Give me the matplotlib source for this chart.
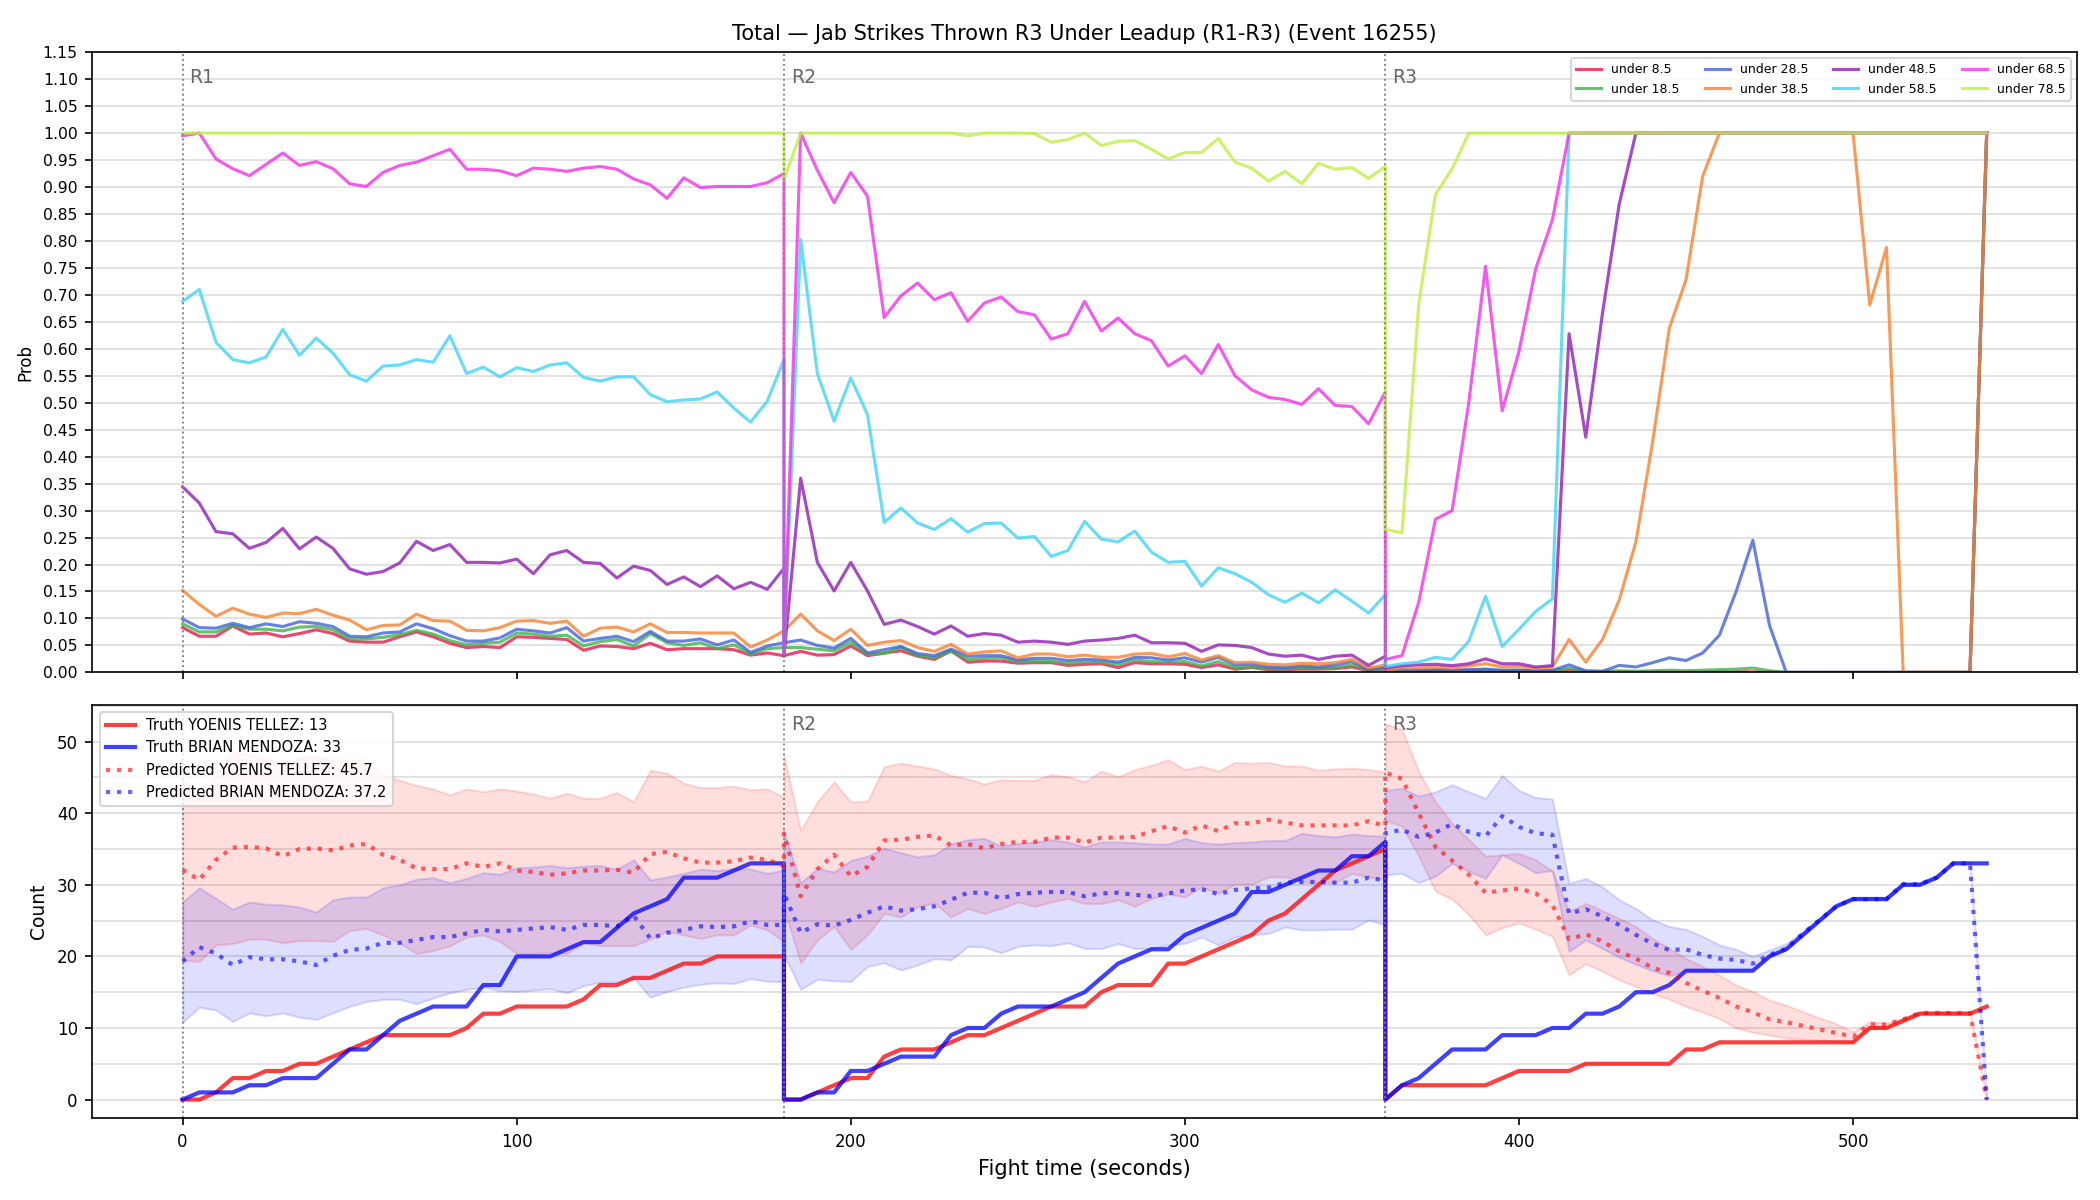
import numpy as np
import matplotlib
matplotlib.use("Agg")
import matplotlib.pyplot as plt
from matplotlib.ticker import MultipleLocator

title = "Total \u2014 Jab Strikes Thrown R3 Under Leadup (R1-R3) (Event 16255)"
round_names = ["R1", "R2", "R3"]
round_starts = [0, 180, 360]
t_round = np.arange(0, 181, 5)
t = np.concatenate([s + t_round for s in round_starts])

thresholds = ["under 8.5", "under 18.5", "under 28.5", "under 38.5",
              "under 48.5", "under 58.5", "under 68.5", "under 78.5"]
line_colors = ["#e6194b", "#3cb44b", "#4363d8", "#f58231",
               "#911eb4", "#42d4f4", "#f032e6", "#bfef45"]

# probability of "under X" per 5 s sample, R1 | R2 | R3
under_8_5 = (
    [0.083, 0.067, 0.067, 0.086, 0.071, 0.073, 0.066, 0.072, 0.079, 0.072, 0.058, 0.056, 0.056,
     0.066, 0.075, 0.066, 0.054, 0.046, 0.048, 0.046, 0.066, 0.065, 0.063, 0.061, 0.041, 0.049,
     0.048, 0.044, 0.054, 0.042, 0.044, 0.044, 0.044, 0.042, 0.032, 0.036, 0.031]
    + [0.031, 0.039, 0.032, 0.033, 0.049, 0.031, 0.036, 0.040, 0.030, 0.024, 0.040, 0.019, 0.021,
       0.021, 0.017, 0.018, 0.018, 0.013, 0.015, 0.016, 0.009, 0.018, 0.016, 0.016, 0.015, 0.009,
       0.014, 0.006, 0.009, 0.005, 0.005, 0.006, 0.006, 0.007, 0.010, 0.003, 0.006]
    + [0.001, 0.002, 0.002, 0.002, 0.002, 0.003, 0.004, 0.002, 0.003, 0.002, 0.002, 0.004, 0.001,
       0.001, 0.001, 0.001, 0.001, 0.001, 0.001, 0.001, 0.001, 0.001, 0.001, 0.001, 0, 0, 0, 0,
       0, 0, 0, 0, 0, 0, 0, 0, 1.0]
)
under_18_5 = (
    [0.090, 0.075, 0.075, 0.087, 0.080, 0.080, 0.077, 0.084, 0.085, 0.079, 0.062, 0.062, 0.065,
     0.070, 0.078, 0.071, 0.059, 0.051, 0.054, 0.056, 0.073, 0.071, 0.067, 0.069, 0.049, 0.057,
     0.061, 0.049, 0.072, 0.055, 0.050, 0.055, 0.044, 0.051, 0.034, 0.044, 0.046]
    + [0.046, 0.046, 0.043, 0.040, 0.056, 0.033, 0.035, 0.046, 0.031, 0.027, 0.039, 0.024, 0.026,
       0.027, 0.020, 0.021, 0.020, 0.017, 0.019, 0.019, 0.015, 0.023, 0.020, 0.019, 0.020, 0.012,
       0.020, 0.009, 0.010, 0.007, 0.006, 0.009, 0.007, 0.009, 0.014, 0.004, 0.007]
    + [0.002, 0.003, 0.003, 0.004, 0.003, 0.004, 0.005, 0.003, 0.004, 0.002, 0.003, 0.008, 0.002,
       0.002, 0.003, 0.002, 0.003, 0.004, 0.003, 0.004, 0.005, 0.006, 0.008, 0.003, 0, 0, 0, 0,
       0, 0, 0, 0, 0, 0, 0, 0, 1.0]
)
under_28_5 = (
    [0.099, 0.083, 0.082, 0.091, 0.083, 0.090, 0.085, 0.094, 0.091, 0.085, 0.067, 0.066, 0.073,
     0.075, 0.090, 0.081, 0.068, 0.058, 0.058, 0.064, 0.080, 0.077, 0.073, 0.083, 0.058, 0.063,
     0.067, 0.057, 0.076, 0.058, 0.058, 0.062, 0.051, 0.060, 0.037, 0.049, 0.055]
    + [0.055, 0.060, 0.050, 0.045, 0.063, 0.036, 0.042, 0.048, 0.035, 0.031, 0.043, 0.030, 0.031,
       0.031, 0.023, 0.026, 0.026, 0.022, 0.024, 0.023, 0.019, 0.028, 0.027, 0.023, 0.027, 0.019,
       0.028, 0.014, 0.015, 0.010, 0.009, 0.012, 0.010, 0.014, 0.020, 0.005, 0.010]
    + [0.002, 0.005, 0.004, 0.005, 0.004, 0.005, 0.006, 0.004, 0.004, 0.003, 0.004, 0.014, 0.003,
       0.002, 0.013, 0.010, 0.018, 0.027, 0.022, 0.036, 0.069, 0.150, 0.245, 0.087, 0, 0, 0, 0,
       0, 0, 0, 0, 0, 0, 0, 0, 1.0]
)
under_38_5 = (
    [0.152, 0.126, 0.104, 0.119, 0.108, 0.102, 0.110, 0.109, 0.117, 0.106, 0.097, 0.079, 0.087,
     0.088, 0.108, 0.096, 0.095, 0.078, 0.077, 0.083, 0.095, 0.096, 0.091, 0.095, 0.067, 0.082,
     0.084, 0.075, 0.090, 0.074, 0.074, 0.073, 0.073, 0.073, 0.047, 0.060, 0.077]
    + [0.077, 0.108, 0.077, 0.059, 0.080, 0.050, 0.056, 0.059, 0.046, 0.039, 0.052, 0.034, 0.038,
       0.040, 0.027, 0.034, 0.034, 0.029, 0.032, 0.028, 0.028, 0.034, 0.035, 0.029, 0.035, 0.023,
       0.031, 0.018, 0.019, 0.015, 0.014, 0.017, 0.016, 0.018, 0.024, 0.008, 0.014]
    + [0.003, 0.008, 0.008, 0.010, 0.008, 0.012, 0.016, 0.010, 0.011, 0.007, 0.010, 0.061, 0.019,
       0.061, 0.134, 0.242, 0.427, 0.638, 0.728, 0.920, 1, 1, 1, 1, 1, 1, 1, 1, 1,
       0.681, 0.788, 0, 0, 0, 0, 0, 1.0]
)
under_48_5 = (
    [0.344, 0.314, 0.261, 0.257, 0.230, 0.241, 0.267, 0.229, 0.251, 0.230, 0.192, 0.182, 0.187,
     0.203, 0.243, 0.226, 0.237, 0.204, 0.204, 0.203, 0.210, 0.183, 0.218, 0.226, 0.204, 0.202,
     0.175, 0.197, 0.189, 0.163, 0.177, 0.159, 0.179, 0.155, 0.167, 0.154, 0.193]
    + [0.030, 0.360, 0.204, 0.151, 0.204, 0.151, 0.089, 0.097, 0.085, 0.071, 0.086, 0.067, 0.072,
       0.069, 0.056, 0.058, 0.056, 0.052, 0.058, 0.060, 0.063, 0.069, 0.055, 0.055, 0.054, 0.039,
       0.051, 0.050, 0.046, 0.034, 0.030, 0.032, 0.024, 0.030, 0.032, 0.013, 0.030]
    + [0.008, 0.0125, 0.014, 0.015, 0.0125, 0.016, 0.025, 0.016, 0.016, 0.010, 0.0125, 0.628,
       0.436, 0.666, 0.868] + [1.0] * 22
)
under_58_5 = (
    [0.688, 0.710, 0.612, 0.580, 0.574, 0.585, 0.636, 0.588, 0.620, 0.592, 0.552, 0.540, 0.568,
     0.570, 0.580, 0.575, 0.624, 0.554, 0.566, 0.548, 0.565, 0.558, 0.570, 0.574, 0.547, 0.540,
     0.548, 0.548, 0.515, 0.502, 0.505, 0.507, 0.520, 0.490, 0.464, 0.503, 0.580]
    + [0.035, 0.803, 0.554, 0.466, 0.546, 0.478, 0.278, 0.305, 0.277, 0.265, 0.285, 0.260, 0.276,
       0.277, 0.249, 0.252, 0.215, 0.226, 0.280, 0.247, 0.242, 0.262, 0.223, 0.204, 0.206, 0.160,
       0.194, 0.183, 0.167, 0.144, 0.130, 0.147, 0.129, 0.153, 0.132, 0.110, 0.144]
    + [0.011, 0.016, 0.019, 0.028, 0.024, 0.058, 0.141, 0.048, 0.080, 0.113, 0.136] + [1.0] * 26
)
under_68_5 = (
    [0.995, 1.0, 0.952, 0.934, 0.921, 0.942, 0.963, 0.940, 0.947, 0.934, 0.906, 0.901, 0.927,
     0.940, 0.946, 0.958, 0.970, 0.933, 0.933, 0.930, 0.921, 0.935, 0.933, 0.929, 0.935, 0.938,
     0.933, 0.915, 0.904, 0.879, 0.917, 0.899, 0.901, 0.901, 0.901, 0.908, 0.925]
    + [0.035, 1.0, 0.931, 0.871, 0.927, 0.883, 0.658, 0.698, 0.722, 0.691, 0.704, 0.651, 0.685,
       0.696, 0.669, 0.663, 0.618, 0.628, 0.688, 0.633, 0.657, 0.628, 0.615, 0.568, 0.587, 0.554,
       0.608, 0.550, 0.524, 0.510, 0.506, 0.497, 0.526, 0.495, 0.493, 0.461, 0.520]
    + [0.024, 0.031, 0.130, 0.284, 0.300, 0.501, 0.753, 0.485, 0.595, 0.748, 0.839] + [1.0] * 26
)
under_78_5 = (
    [1.0] * 37
    + [0.914, 1, 1, 1, 1, 1, 1, 1, 1, 1, 1, 0.995, 1.0, 1.0, 1.0, 0.999, 0.983, 0.988, 1.0, 0.977,
       0.985, 0.986, 0.970, 0.952, 0.964, 0.964, 0.990, 0.946, 0.935, 0.911, 0.929, 0.906, 0.944,
       0.933, 0.936, 0.916, 0.938]
    + [0.265, 0.259, 0.683, 0.886, 0.934] + [1.0] * 32
)
probs = [under_8_5, under_18_5, under_28_5, under_38_5,
         under_48_5, under_58_5, under_68_5, under_78_5]

# counts
fighter_a = "YOENIS TELLEZ"
fighter_b = "BRIAN MENDOZA"
truth_a = ([0, 0, 1, 3, 3, 4, 4, 5, 5, 6, 7, 8, 9, 9, 9, 9, 9, 10, 12, 12, 13, 13, 13, 13, 14, 16,
            16, 17, 17, 18, 19, 19, 20, 20, 20, 20, 20]
           + [0, 0, 1, 2, 3, 3, 6, 7, 7, 7, 8, 9, 9, 10, 11, 12, 13, 13, 13, 15, 16, 16, 16, 19,
              19, 20, 21, 22, 23, 25, 26, 28, 30, 32, 33, 34, 35]
           + [0, 2, 2, 2, 2, 2, 2, 3, 4, 4, 4, 4, 5, 5, 5, 5, 5, 5, 7, 7, 8, 8, 8, 8, 8, 8, 8, 8, 8,
              10, 10, 11, 12, 12, 12, 12, 13])
truth_b = ([0, 1, 1, 1, 2, 2, 3, 3, 3, 5, 7, 7, 9, 11, 12, 13, 13, 13, 16, 16, 20, 20, 20, 21, 22,
            22, 24, 26, 27, 28, 31, 31, 31, 32, 33, 33, 33]
           + [0, 0, 1, 1, 4, 4, 5, 6, 6, 6, 9, 10, 10, 12, 13, 13, 13, 14, 15, 17, 19, 20, 21, 21,
              23, 24, 25, 26, 29, 29, 30, 31, 32, 32, 34, 34, 36]
           + [0, 2, 3, 5, 7, 7, 7, 9, 9, 9, 10, 10, 12, 12, 13, 15, 15, 16, 18, 18, 18, 18, 18, 20,
              21, 23, 25, 27, 28, 28, 28, 30, 30, 31, 33, 33, 33])
pred_a = ([32.1, 30.7, 33.5, 35.2, 35.3, 35.1, 34.0, 35.0, 35.1, 34.8, 35.5, 35.7, 34.2, 33.5, 32.3,
           32.2, 32.2, 33.0, 32.5, 33.0, 32.0, 31.8, 31.4, 31.6, 32.0, 32.0, 32.1, 31.7, 34.3, 34.6,
           33.7, 33.1, 33.1, 33.3, 33.8, 33.5, 32.6]
          + [37.2, 28.4, 32.2, 34.2, 31.2, 32.5, 36.2, 36.3, 36.7, 36.9, 35.5, 35.7, 35.1, 35.7,
             36.0, 36.0, 36.6, 36.6, 35.9, 36.6, 36.6, 36.7, 37.5, 38.2, 37.3, 38.3, 37.5, 38.6,
             38.6, 39.1, 38.7, 38.3, 38.3, 38.3, 38.3, 38.9, 38.2]
          + [45.7, 44.8, 40.0, 35.3, 33.4, 31.4, 28.9, 29.2, 29.5, 28.8, 27.2, 22.4, 23.1, 22.1,
             20.7, 19.7, 18.4, 17.7, 16.3, 15.2, 14.2, 13.0, 12.2, 11.2, 10.8, 10.3, 9.8, 9.3, 8.8,
             10.5, 10.5, 11.2, 12.1, 12.1, 12.1, 12.1, 0.0])
pred_a_hi = ([44.7, 42.1, 45.4, 48.6, 48.2, 47.8, 46.1, 47.8, 48.0, 47.5, 47.4, 47.5, 45.3, 44.6,
              43.9, 43.4, 42.6, 43.4, 43.0, 43.4, 43.1, 42.7, 42.1, 42.8, 42.1, 42.1, 42.9, 41.6,
              46.0, 45.6, 44.2, 43.6, 43.6, 43.8, 43.3, 43.4, 42.3]
             + [48.1, 37.6, 41.6, 44.4, 41.6, 41.7, 46.5, 47.0, 46.6, 46.2, 45.3, 44.8, 44.1, 44.7,
                44.6, 44.6, 45.4, 45.1, 44.4, 45.9, 45.1, 46.1, 46.7, 47.5, 46.1, 46.6, 45.9, 47.1,
                47.0, 47.1, 46.6, 46.6, 46.0, 46.2, 46.3, 46.1, 45.8]
             + [52.5, 51.7, 45.8, 41.6, 38.6, 36.3, 34.0, 34.2, 34.4, 33.5, 31.9, 26.3, 27.4, 26.4,
                25.3, 24.2, 22.5, 21.1, 19.7, 18.6, 17.4, 16.0, 15.1, 13.9, 13.2, 12.3, 11.4, 10.6,
                9.5, 10.9, 10.7, 11.4, 12.3, 12.3, 12.3, 12.3, 0.0])
pred_a_lo = ([19.5, 19.3, 21.6, 21.8, 22.4, 22.4, 21.9, 22.2, 22.2, 22.1, 23.6, 23.9, 23.0, 21.9,
              20.4, 20.8, 21.5, 22.7, 23.0, 22.1, 20.4, 20.4, 20.5, 20.4, 21.9, 21.5, 21.5, 21.5,
              22.4, 23.5, 23.0, 22.5, 23.0, 23.0, 24.4, 23.7, 22.1]
             + [26.7, 19.1, 22.3, 24.2, 21.0, 23.0, 26.0, 25.5, 26.9, 27.5, 25.5, 26.7, 26.0, 26.7,
                27.6, 27.0, 27.6, 28.1, 27.4, 27.4, 27.9, 27.0, 28.1, 28.7, 28.3, 29.7, 28.8, 30.1,
                30.1, 31.1, 31.1, 30.4, 30.3, 30.3, 31.6, 31.1, 30.7]
             + [39.0, 38.2, 34.0, 29.1, 28.0, 25.8, 23.0, 24.0, 24.7, 23.8, 22.8, 17.4, 19.0, 17.9,
                16.7, 15.8, 14.8, 14.0, 13.0, 12.2, 11.3, 10.0, 9.4, 9.0, 8.6, 8.4, 8.3, 8.1, 8.1,
                10.0, 10.0, 11.0, 12.0, 12.0, 12.0, 12.0, 0.0])
pred_b = ([19.3, 21.3, 20.4, 18.8, 19.9, 19.6, 19.6, 19.3, 18.8, 20.1, 20.9, 21.1, 21.9, 21.9, 22.3,
           22.7, 22.7, 23.2, 23.7, 23.5, 23.7, 23.9, 24.1, 23.7, 24.4, 24.4, 24.2, 25.7, 22.5, 23.3,
           23.7, 24.2, 24.1, 24.2, 24.9, 24.4, 24.4]
          + [28.8, 23.3, 24.5, 24.3, 25.1, 26.1, 27.0, 26.4, 26.6, 27.0, 27.9, 28.9, 28.9, 28.1,
             28.7, 28.9, 29.0, 29.0, 28.4, 28.8, 28.9, 28.6, 28.4, 28.8, 29.2, 29.4, 28.7, 29.3,
             29.5, 29.6, 30.3, 30.4, 30.4, 30.3, 30.3, 31.0, 30.6]
          + [37.2, 37.7, 36.7, 37.3, 38.5, 37.4, 36.8, 39.6, 38.1, 37.2, 37.0, 26.0, 26.6, 25.6,
             24.4, 23.0, 21.8, 20.9, 21.0, 20.2, 19.7, 19.5, 19.0, 20.2, 21.1, 23.2, 25.1, 27.0,
             28.0, 28.0, 28.0, 30.1, 30.1, 31.0, 33.0, 33.0, 0.0])
pred_b_hi = ([27.6, 29.6, 28.1, 26.6, 27.6, 27.3, 27.2, 26.9, 26.2, 27.9, 28.3, 28.3, 29.6, 30.0,
              30.8, 31.0, 30.3, 30.9, 31.7, 31.5, 32.4, 32.5, 32.7, 32.4, 32.6, 32.7, 32.2, 33.5,
              30.7, 31.1, 31.6, 32.2, 32.0, 32.3, 32.2, 31.6, 32.1]
             + [37.4, 30.3, 32.3, 31.8, 33.4, 34.0, 35.1, 34.5, 33.9, 34.2, 35.7, 36.3, 36.5, 35.4,
                35.8, 36.0, 36.3, 36.0, 35.3, 36.0, 36.0, 35.9, 35.7, 35.7, 36.5, 35.9, 35.7, 35.9,
                36.0, 36.2, 36.2, 37.2, 36.9, 36.7, 37.1, 36.9, 36.8]
             + [43.2, 43.5, 42.4, 43.0, 44.0, 43.0, 42.1, 45.3, 43.2, 42.2, 42.0, 30.2, 30.9, 29.7,
                27.9, 26.7, 25.1, 24.2, 23.8, 22.8, 21.6, 21.0, 20.0, 20.9, 21.8, 23.5, 25.3, 27.3,
                28.3, 28.3, 28.3, 30.3, 30.3, 31.2, 33.1, 33.1, 0.0])
pred_b_lo = ([10.8, 12.9, 12.5, 10.9, 12.1, 11.7, 12.1, 11.5, 11.2, 12.1, 13.0, 13.7, 14.0, 14.0,
              13.4, 14.2, 14.9, 15.4, 15.7, 15.2, 15.1, 15.3, 15.5, 14.9, 15.9, 16.4, 16.4, 17.0,
              14.3, 15.1, 15.7, 16.1, 16.3, 16.2, 16.9, 16.5, 16.5]
             + [20.2, 15.4, 16.8, 16.6, 16.5, 18.6, 19.1, 18.1, 18.8, 19.7, 19.5, 21.4, 21.3, 20.5,
                21.4, 21.6, 21.5, 21.9, 21.1, 21.1, 21.8, 21.1, 21.1, 21.6, 21.8, 22.7, 21.6, 22.7,
                23.0, 23.2, 24.1, 23.7, 23.7, 23.8, 23.8, 25.1, 24.4]
             + [31.4, 31.6, 30.3, 31.2, 33.0, 31.9, 30.9, 34.2, 33.0, 31.7, 32.0, 20.7, 22.3, 21.1,
                19.9, 18.9, 18.0, 17.3, 18.0, 18.0, 18.0, 18.0, 18.2, 20.0, 21.0, 23.0, 25.0, 27.0,
                28.0, 28.0, 28.0, 30.0, 30.0, 31.0, 33.0, 33.0, 0.0])
final_pred_a = 45.7
final_pred_b = 37.2

fig = plt.figure(figsize=(14, 8), dpi=150)
gs = fig.add_gridspec(2, 1, height_ratios=[3, 2], left=0.044, right=0.989,
                      top=0.9565, bottom=0.068, hspace=0.063)
ax1 = fig.add_subplot(gs[0])
ax2 = fig.add_subplot(gs[1], sharex=ax1)

# top: probabilities
for lab, col, p in zip(thresholds, line_colors, probs):
    ax1.plot(t, p, color=col, lw=1.5, alpha=0.8, label=lab)
ax1.set_ylim(0, 1.15)
ax1.yaxis.set_major_locator(MultipleLocator(0.05))
ax1.yaxis.set_major_formatter(matplotlib.ticker.FormatStrFormatter("%.2f"))
ax1.set_ylabel("Prob", fontsize=8)
ax1.tick_params(labelsize=7.5)
ax1.tick_params(axis="x", labelbottom=False)
ax1.grid(axis="y", color="#dddddd", lw=0.8)
ax1.set_axisbelow(True)
ax1.legend(loc="upper right", ncol=4, fontsize=6)
ax1.set_title(title, fontsize=10)

# bottom: counts
ax2.plot(t, truth_a, color="red", lw=2, alpha=0.75, label=f"Truth {fighter_a}: {truth_a[-1]}")
ax2.plot(t, truth_b, color="blue", lw=2, alpha=0.75, label=f"Truth {fighter_b}: {truth_b[-1]}")
ax2.plot(t, pred_a, color="red", lw=2, ls=":", alpha=0.6,
         label=f"Predicted {fighter_a}: {final_pred_a}")
ax2.plot(t, pred_b, color="blue", lw=2, ls=":", alpha=0.6,
         label=f"Predicted {fighter_b}: {final_pred_b}")
ax2.fill_between(t, pred_a_lo, pred_a_hi, color="red", alpha=0.13)
ax2.fill_between(t, pred_b_lo, pred_b_hi, color="blue", alpha=0.13)
ax2.set_ylim(-2.63, 55.13)
ax2.yaxis.set_major_locator(MultipleLocator(10))
ax2.yaxis.set_minor_locator(MultipleLocator(5))
ax2.tick_params(axis="y", which="minor", length=0)
ax2.grid(axis="y", which="both", color="#dddddd", lw=0.8)
ax2.set_axisbelow(True)
ax2.set_ylabel("Count", fontsize=9)
ax2.set_xlabel("Fight time (seconds)", fontsize=10)
ax2.tick_params(labelsize=8)
ax2.legend(loc="upper left", fontsize=7)
ax2.set_xlim(-27, 567)

for ax in (ax1, ax2):
    for name, s in zip(round_names, round_starts):
        ax.axvline(s, color="gray", ls=":", lw=0.9)
        if ax is ax2 and s == 0:
            continue  # sits under the legend
        ax.text(s + 2, 0.975, name, transform=ax.get_xaxis_transform(),
                va="top", ha="left", fontsize=9, color="#666666")

fig.savefig("out.png", dpi=150)
